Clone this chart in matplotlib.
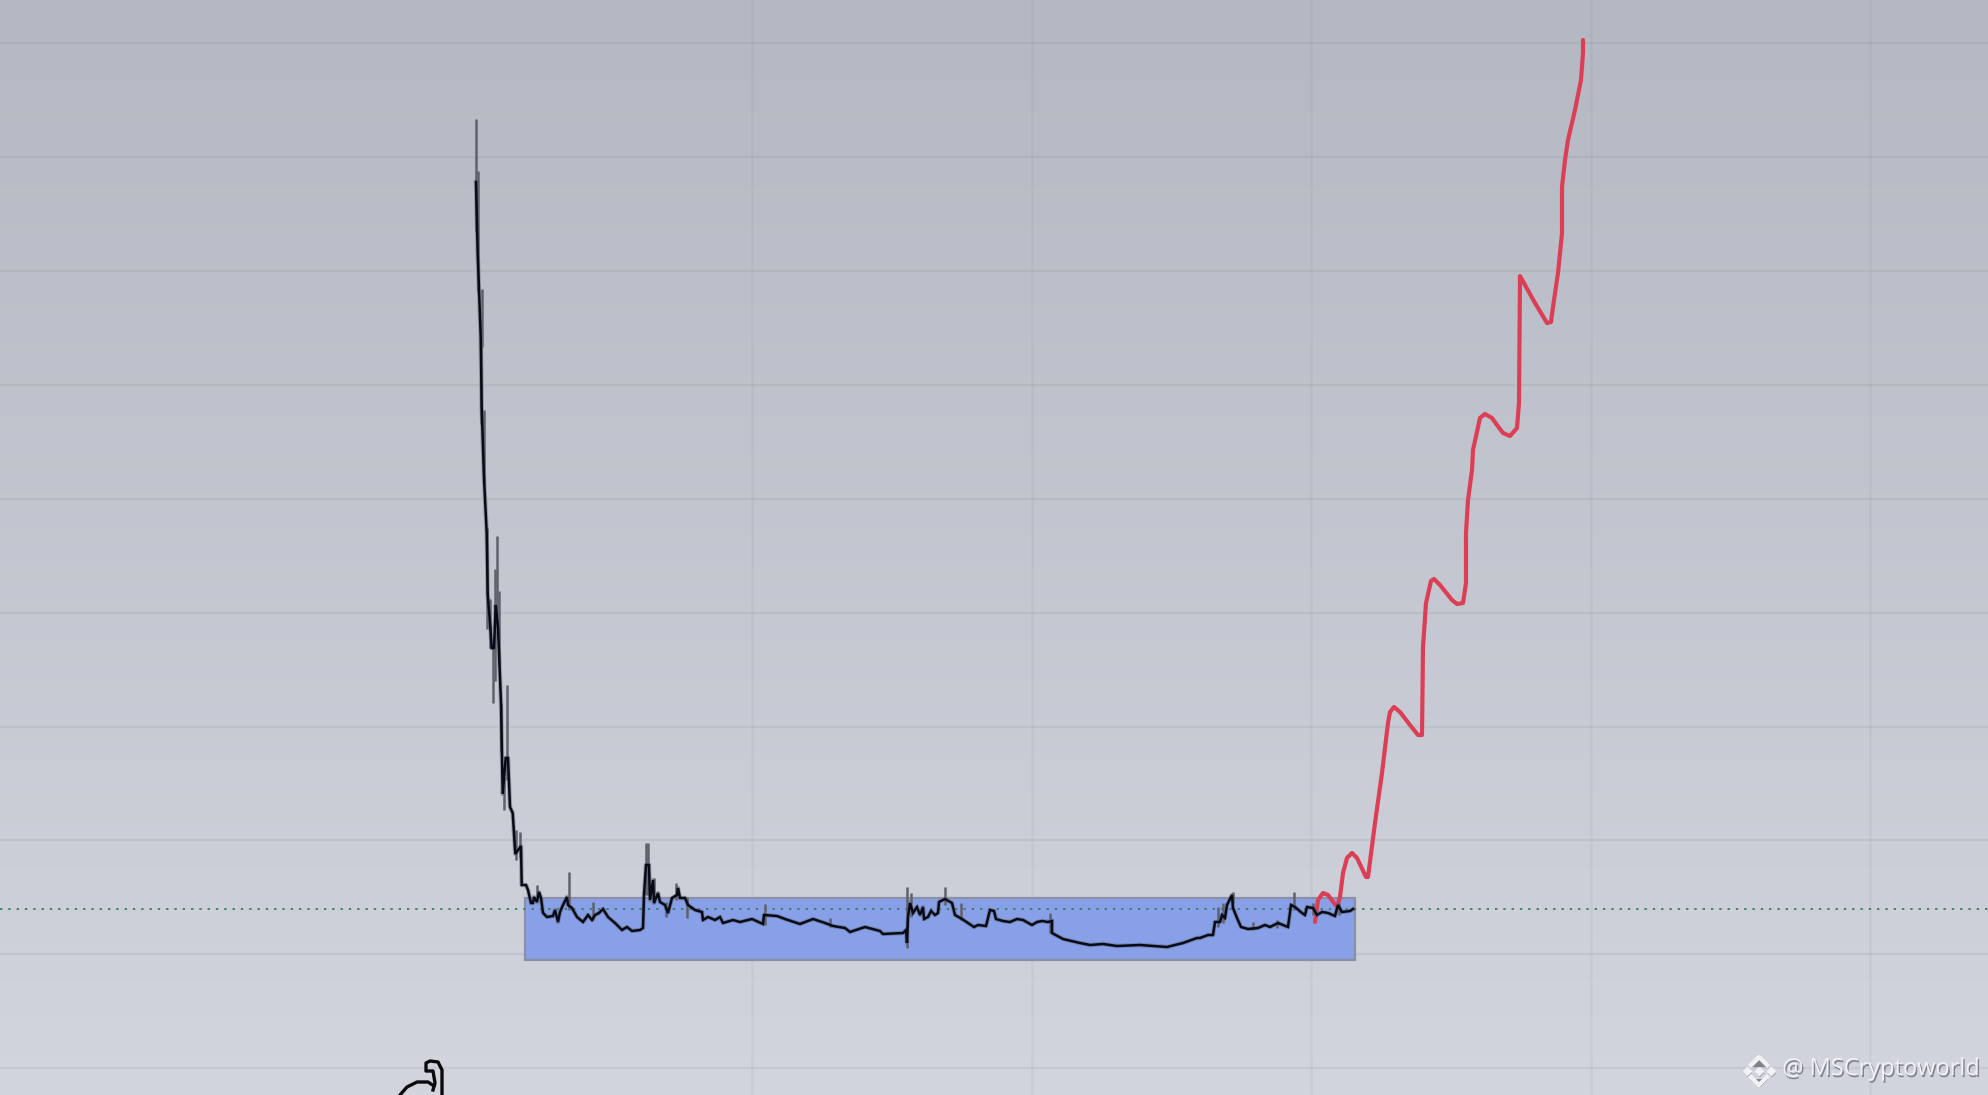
import numpy as np
import matplotlib
matplotlib.use("Agg")
import matplotlib.pyplot as plt
import matplotlib.patheffects as pe
from matplotlib.patches import Rectangle

ancho, alto = 1988, 1095

# --- datos ---
lineas_h = [43, 157, 271, 385, 499, 613, 727, 840, 954, 1068]
lineas_v = [752, 1032, 1311, 1591, 1870]
nivel_punteado = 909
zona_x = [525, 1355]
zona_y = [898, 960]

precio_x = [476, 477.7, 480.7, 481.7, 484, 486.7, 487.7, 490.7, 491.7, 494, 495.7, 498, 501, 502.7,
            505.7, 508, 510, 512.7, 515.3, 516, 521, 521.7, 526, 528, 531, 533, 534, 537, 539, 541,
            543, 547, 553, 555, 558, 560, 563, 567, 568, 572, 577, 583, 588, 592, 595, 599, 603,
            608, 615, 622, 627, 632, 640, 643, 644, 646, 649, 650, 653, 654, 658, 660, 665, 668,
            672, 677, 678, 680, 685, 688, 695, 702, 703, 708, 715, 720, 723, 733, 740, 752, 763,
            764, 777, 785, 800, 813, 825, 833, 845, 850, 865, 880, 883, 903, 906, 907, 908, 910,
            913, 917, 920, 923, 924, 928, 931, 935, 938, 939, 945, 952, 955, 962, 968, 974, 978,
            986, 990, 994, 996, 1003, 1010, 1017, 1023, 1032, 1037, 1042, 1048, 1052, 1052, 1063,
            1080, 1090, 1103, 1117, 1140, 1167, 1183, 1197, 1200, 1208, 1213, 1215, 1220, 1222,
            1225, 1227, 1232, 1233, 1237, 1241, 1248, 1258, 1265, 1270, 1278, 1288, 1291, 1295,
            1302, 1305, 1307, 1313, 1317, 1322, 1328, 1335, 1338, 1342, 1350, 1353]
precio_y = [182, 254, 336, 407, 478, 533, 594, 632, 648, 648, 605, 627, 703, 794,
            758, 758, 807, 813, 854, 853, 846, 885, 885, 890, 903, 903, 897, 902, 892, 898,
            913, 917, 916, 910, 922, 912, 905, 897, 905, 908, 917, 922, 915, 920, 915, 913, 909,
            917, 923, 930, 927, 931, 930, 928, 895, 865, 865, 900, 880, 903, 893, 902, 905, 913,
            898, 895, 888, 898, 898, 905, 910, 912, 920, 917, 920, 917, 923, 920, 922, 919, 924,
            915, 916, 919, 924, 919, 923, 926, 928, 932, 927, 931, 934, 933, 930, 943, 917, 903,
            913, 907, 915, 907, 919, 917, 911, 915, 913, 902, 899, 903, 915, 919, 923, 927, 925,
            926, 910, 911, 919, 921, 922, 919, 920, 925, 922, 921, 922, 921, 933, 939,
            943, 945, 944, 946, 945, 947, 943, 938, 938, 935, 935, 922, 922, 915,
            918, 905, 895, 908, 918, 927, 929, 928, 925, 927, 923, 927, 905, 907,
            913, 915, 907, 908, 915, 912, 913, 916, 905, 912, 911, 909]

mecha_x = [476, 478, 482, 481, 484, 486.7, 490, 492.7, 495, 497, 499, 501, 504, 506.7, 516, 520,
           537, 569, 593, 646, 648, 654, 666, 676, 687, 765, 830, 907, 911, 945, 961, 1050,
           1218, 1223, 1233, 1253, 1277, 1294, 1313, 1339]
mecha_arriba = [119, 171, 289, 320, 410, 528, 599, 648, 569, 536, 591, 703, 777, 685, 830, 832,
                885, 872, 902, 843, 843, 878, 902, 883, 897, 904, 918, 887, 893, 887, 903, 913,
                907, 903, 892, 922, 920, 892, 903, 903]
mecha_abajo = [232, 292, 347, 424, 484, 629, 648, 703, 681, 627, 665, 752, 810, 780, 860, 858,
               897, 910, 920, 895, 895, 903, 917, 900, 918, 925, 927, 948, 917, 905, 920, 933,
               927, 923, 903, 930, 928, 910, 915, 915]

rojo_x = [1315, 1318, 1323, 1328, 1337, 1340, 1343, 1347, 1352, 1357, 1366, 1368, 1375, 1382, 1388,
          1390, 1394, 1400, 1410, 1418, 1422, 1423, 1426, 1431, 1434, 1440, 1452, 1457, 1463,
          1466, 1466, 1468, 1472, 1473, 1480, 1485, 1492, 1497, 1503, 1510, 1517, 1519, 1520,
          1535, 1547, 1551, 1553, 1558, 1562, 1562, 1565, 1568, 1575, 1581, 1583, 1583]
rojo_y = [922, 900, 893, 895, 907, 897, 873, 858, 853, 858, 877, 877, 823, 773, 723,
          712, 707, 712, 725, 735, 735, 647, 603, 581, 579, 585, 600, 604, 603,
          583, 533, 500, 470, 450, 418, 414, 418, 425, 433, 436, 428, 403, 276,
          303, 323, 322, 307, 273, 233, 187, 160, 140, 110, 80, 53, 40]

# figura negra recortada abajo a la izquierda
arco_x = [400, 407, 417, 428, 434]
arco_y = [1095, 1087, 1082, 1082, 1086]
gancho_x = [442, 442, 438, 430, 426, 426, 433, 435, 433]
gancho_y = [1095, 1070, 1062, 1061, 1063, 1071, 1071, 1083, 1090]

marca = "@ MSCryptoworld"

# --- figura ---
fig = plt.figure(figsize=(ancho / 100, alto / 100), dpi=100)
ax = fig.add_axes([0, 0, 1, 1])
ax.set_xlim(0, ancho)
ax.set_ylim(alto, 0)
ax.axis("off")

# fondo en degradado vertical
arriba = np.array([180, 184, 194]) / 255
abajo = np.array([210, 213, 222]) / 255
t = np.linspace(0, 1, 256)[:, None, None]
fondo = arriba + (abajo - arriba) * t
ax.imshow(fondo, extent=[0, ancho, alto, 0], aspect="auto", zorder=0)

ax.hlines(lineas_h, 0, ancho, color="#5a5e70", alpha=0.09, lw=1.6, zorder=1)
ax.vlines(lineas_v, 0, alto, color="#5a5e70", alpha=0.06, lw=2.0, zorder=1)

ax.add_patch(Rectangle((zona_x[0], zona_y[0]), zona_x[1] - zona_x[0], zona_y[1] - zona_y[0],
                       facecolor="#88a0e8", edgecolor="#8c90a6", lw=1.6, zorder=2))

ax.plot([0, ancho], [nivel_punteado, nivel_punteado], color="#3f7a66", lw=1.3,
        dashes=(1.3, 3.3), zorder=3)

ax.plot(rojo_x, rojo_y, color="#dc3f55", lw=3.0, solid_joinstyle="round",
        solid_capstyle="round", zorder=4)

# cuerpos de vela difusos + mechas
ax.plot(precio_x, precio_y, color="#5f616c", lw=3.2, alpha=0.45, zorder=5)
ax.vlines(mecha_x, mecha_arriba, mecha_abajo, color="#5f616c", lw=1.8, zorder=5)
ax.plot(precio_x, precio_y, color="#070b18", lw=1.8, solid_joinstyle="miter", zorder=6)

ax.plot(arco_x, arco_y, color="#0a0a0a", lw=2.4, zorder=6)
ax.plot(gancho_x, gancho_y, color="#0a0a0a", lw=2.4, solid_joinstyle="round", zorder=6)

# marca de agua con sombra
sombra = [pe.withSimplePatchShadow(offset=(1, -1.5), shadow_rgbFace="#777a86", alpha=0.9)]
ax.text(1980, 1069, marca, ha="right", va="center", color="#f1f2f6", fontsize=17,
        family="Open Sans", path_effects=sombra, zorder=7)
ax.plot([1759, 1747, 1771], [1071, 1071, 1071], ls="none", marker="D", ms=4,
        color="#f1f2f6", zorder=7, path_effects=sombra)
ax.plot([1751, 1759, 1767], [1065, 1057, 1065], color="#f1f2f6", lw=3, zorder=7, path_effects=sombra)
ax.plot([1751, 1759, 1767], [1077, 1085, 1077], color="#f1f2f6", lw=3, zorder=7, path_effects=sombra)

fig.savefig("out.png", dpi=100)
